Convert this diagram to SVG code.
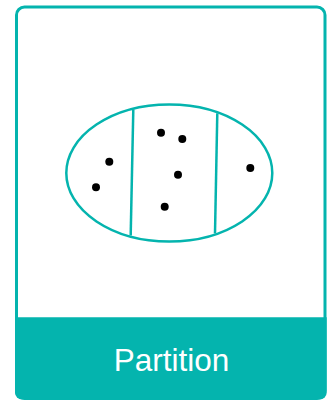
<svg xmlns="http://www.w3.org/2000/svg" width="329" height="400" viewBox="0 0 329 400">
<style>
.teal{stroke:#04b4ae;fill:none}
.dot{fill:#000}
</style>
<rect width="329" height="400" fill="#fff"/>
<g id="card">
<rect x="16.5" y="7" width="308.5" height="391.5" rx="8" class="teal" stroke-width="3"/>
<path d="M15,317.3 H326.7 V392.5 A7,7 0 0 1 319.7,399.5 H22 A7,7 0 0 1 15,392.5 Z" fill="#04b4ae"/>
<text x="171.5" y="371" font-family="Liberation Sans, Arial, sans-serif" font-size="31.5" fill="#fff" text-anchor="middle">Partition</text>
</g>
<g id="set">
<ellipse cx="169.3" cy="173" rx="103" ry="68.5" class="teal" stroke-width="2.5"/>
<line x1="133.3" y1="109.5" x2="130.7" y2="235.5" class="teal" stroke-width="2.5"/>
<line x1="217.3" y1="113.3" x2="215" y2="233.5" class="teal" stroke-width="2.5"/>
</g>
<g id="points">
<circle cx="161" cy="132.7" r="4" class="dot"/>
<circle cx="182.3" cy="139" r="4" class="dot"/>
<circle cx="109.3" cy="161.7" r="4" class="dot"/>
<circle cx="96" cy="187.3" r="4" class="dot"/>
<circle cx="178" cy="174.7" r="4" class="dot"/>
<circle cx="164.7" cy="206.7" r="4" class="dot"/>
<circle cx="250.3" cy="168" r="4" class="dot"/>
</g>
</svg>
